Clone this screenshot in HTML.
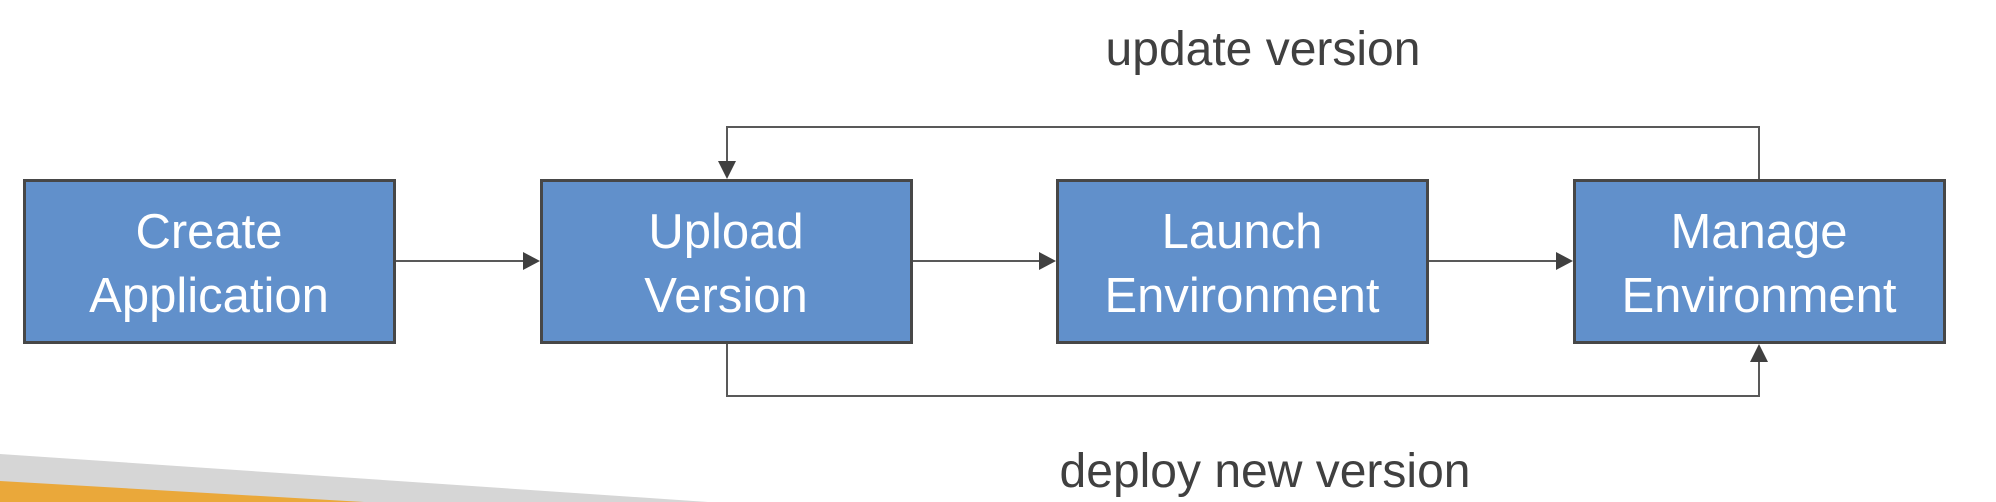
<!DOCTYPE html>
<html><head><meta charset="utf-8"><style>
html,body{margin:0;padding:0;background:#fff;}
svg{display:block;}
text{font-family:"Liberation Sans",sans-serif;}
</style></head><body>
<svg width="1996" height="502" viewBox="0 0 1996 502" xmlns="http://www.w3.org/2000/svg">
<rect width="1996" height="502" fill="#fff"/>
<polygon points="0,454 708,502 0,502" fill="#d6d6d6"/>
<polygon points="0,481 364,502 0,502" fill="#eaa83a"/>
<g fill="none" stroke="#595959" stroke-width="2">
<line x1="396" y1="261" x2="525" y2="261"/>
<line x1="912" y1="261" x2="1041" y2="261"/>
<line x1="1428" y1="261" x2="1558" y2="261"/>
<polyline points="1759,179 1759,127 727,127 727,162"/>
<polyline points="727,344 727,396 1759,396 1759,361"/>
</g>
<g fill="#404040">
<polygon points="523,252 540,261 523,270"/>
<polygon points="1039,252 1056,261 1039,270"/>
<polygon points="1556,252 1573,261 1556,270"/>
<polygon points="718,161 736,161 727,179"/>
<polygon points="1750,362 1768,362 1759,344"/>
</g>
<g fill="#6190cb" stroke="#474747" stroke-width="3">
<rect x="24.5" y="180.5" width="370" height="162"/>
<rect x="541.5" y="180.5" width="370" height="162"/>
<rect x="1057.5" y="180.5" width="370" height="162"/>
<rect x="1574.5" y="180.5" width="370" height="162"/>
</g>
<g fill="#fff" font-size="49" text-anchor="middle">
<text x="209" y="248">Create</text><text x="209" y="312">Application</text>
<text x="726" y="248">Upload</text><text x="726" y="312">Version</text>
<text x="1242" y="248">Launch</text><text x="1242" y="312">Environment</text>
<text x="1759" y="248">Manage</text><text x="1759" y="312">Environment</text>
</g>
<g fill="#404040" font-size="48" text-anchor="middle">
<text x="1263" y="65">update version</text>
<text x="1265" y="487">deploy new version</text>
</g>
</svg>
</body></html>
